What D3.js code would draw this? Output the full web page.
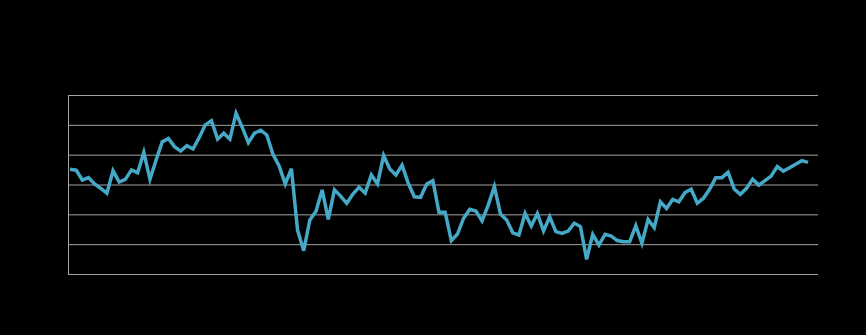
<!DOCTYPE html>
<html>
<head>
<meta charset="utf-8">
<script src="https://cdn.jsdelivr.net/npm/d3@7"></script>
<style>
  html, body { margin: 0; padding: 0; background: #000; }
  svg { display: block; }
</style>
</head>
<body>
<svg></svg>
<script>
// monthly index values
var values = [
  35.1, 34.8, 31.5, 32.3, 30.2, 28.7, 27.1, 34.6, 30.8, 31.7,
  34.9, 33.9, 40.8, 31.7, 38.2, 44.3, 45.4, 42.7, 41.2, 43.0,
  41.9, 45.7, 50.0, 51.4, 45.2, 47.2, 45.2, 53.9, 49.2, 44.0,
  47.2, 48.2, 46.6, 40.1, 36.2, 30.2, 35.3, 14.7, 7.8, 18.1,
  21.0, 28.2, 18.3, 28.2, 26.1, 23.7, 26.8, 29.1, 27.1, 33.2,
  30.2, 39.7, 35.2, 33.2, 36.5, 30.4, 25.9, 25.7, 30.2, 31.3,
  20.7, 20.7, 11.2, 13.4, 18.7, 21.7, 21.1, 17.8, 23.1, 29.3,
  20.1, 18.1, 13.8, 13.1, 20.3, 16.1, 20.3, 14.4, 19.2, 14.2,
  13.6, 14.4, 17.0, 15.9, 4.9, 13.3, 9.7, 13.3, 12.7, 11.2,
  10.8, 10.8, 16.2, 10.3, 18.3, 15.5, 24.2, 22.0, 25.0, 24.2,
  27.3, 28.4, 23.7, 25.4, 28.4, 32.3, 32.3, 34.1, 28.5, 26.7,
  28.7, 31.8, 29.8, 31.3, 32.8, 36.0, 34.5, 35.6, 36.8, 38.0,
  37.4
]
var yTicks = [0, 10, 20, 30, 40, 50, 60]

var width = 866
var height = 335
var plotLeft = 68, plotRight = 818, plotTop = 95, plotBottom = 274

var svg = d3.select('svg')
    .attr('width', width)
    .attr('height', height)

var x = d3.scaleLinear()
    .domain([0, values.length - 1])
    .range([plotLeft + 2, 808])

var y = d3.scaleLinear()
    .domain([0, 60])
    .range([plotBottom, plotTop])

// horizontal gridlines
svg.append('g')
    .attr('transform', 'translate(' + plotLeft + ',0)')
    .call(d3.axisLeft(y)
        .tickValues(yTicks)
        .tickSize(-(plotRight - plotLeft))
        .tickFormat(''))
    .call(function(g){
        g.select('.domain').remove()
        g.selectAll('.tick line')
            .attr('stroke', '#a3a3a3')
            .attr('stroke-width', 1)
    })

// left axis line
svg.append('line')
    .attr('x1', plotLeft + 0.5)
    .attr('x2', plotLeft + 0.5)
    .attr('y1', y(60))
    .attr('y2', y(0))
    .attr('stroke', '#a3a3a3')
    .attr('stroke-width', 1)

var line = d3.line()
    .x(function(d, i){ return x(i) })
    .y(function(d){ return y(d) })

svg.append('path')
    .datum(values)
    .attr('d', line)
    .attr('fill', 'none')
    .attr('stroke', '#45a8c6')
    .attr('stroke-width', 3.5)
    .attr('stroke-linejoin', 'miter')
</script>
</body>
</html>
